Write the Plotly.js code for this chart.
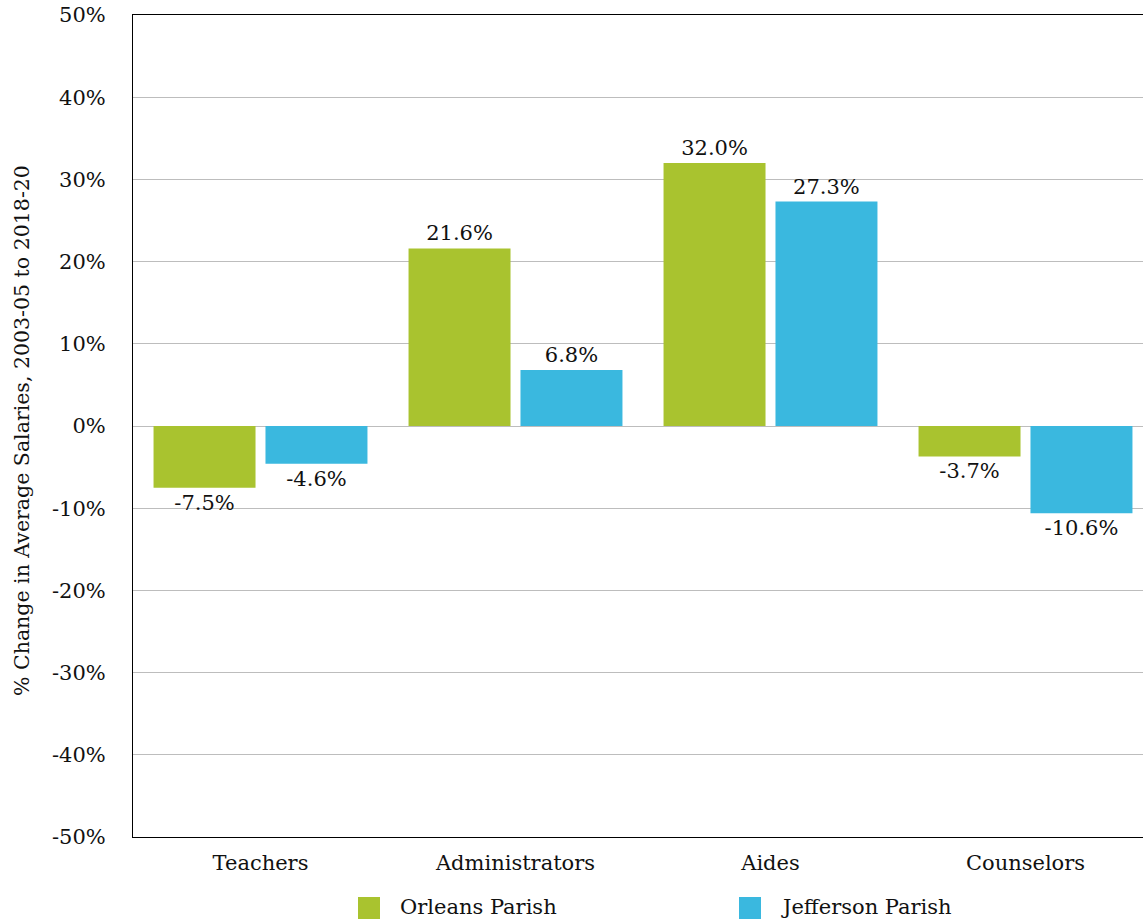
<!DOCTYPE html>
<html>
<head>
<meta charset="utf-8">
<script src="https://cdn.plot.ly/plotly-3.0.1.min.js"></script>
<style>
html,body{margin:0;padding:0;overflow:hidden;background:#fff;}
#chart{width:1153px;height:921px;}
</style>
</head>
<body>
<div id="chart"></div>
<script>
const categories = ["Teachers", "Administrators", "Aides", "Counselors"];
const seriesNames = ["Orleans Parish", "Jefferson Parish"];
const orleans = [-7.5, 21.6, 32.0, -3.7];
const jefferson = [-4.6, 6.8, 27.3, -10.6];
const yTickVals = [50, 40, 30, 20, 10, 0, -10, -20, -30, -40, -50];
const yTickText = yTickVals.map(v => v + "%");
const yTitle = "% Change in Average Salaries, 2003-05 to 2018-20";

const colors = ["#A9C32F", "#3AB8DF"];
const FONT = "DejaVu Serif, Georgia, serif";
const fmt = v => v.toFixed(1) + "%";

const traces = [orleans, jefferson].map((vals, i) => ({
  type: "bar",
  name: seriesNames[i],
  x: categories,
  y: vals,
  text: vals.map(fmt),
  textposition: "outside",
  textfont: {family: FONT, size: 21, color: "#111"},
  marker: {color: colors[i]},
  cliponaxis: false,
  showlegend: false,
  hoverinfo: "skip"
}));

// custom legend (larger swatches as in the reference)
const PW = 1020, PH = 822;
const px = p => (p - 133) / PW;
const py = p => (837 - p) / PH;
const legendSwatchX = [358, 739];
const shapes = seriesNames.map((n, i) => ({
  type: "rect", xref: "paper", yref: "paper",
  x0: px(legendSwatchX[i]), x1: px(legendSwatchX[i] + 22),
  y0: py(897), y1: py(919),
  fillcolor: colors[i], line: {width: 0}
}));
const annotations = seriesNames.map((n, i) => ({
  xref: "paper", yref: "paper",
  x: px(legendSwatchX[i] + 40), y: py(907),
  xanchor: "left", yanchor: "middle",
  text: n, showarrow: false,
  font: {family: FONT, size: 21, color: "#111"}
}));
annotations.push({
  xref: "paper", yref: "paper",
  x: px(22), y: py(431), xanchor: "center", yanchor: "middle",
  text: yTitle, textangle: -90, showarrow: false,
  font: {family: FONT, size: 20.5, color: "#111"}
});

const layout = {
  width: 1153, height: 921,
  margin: {l: 133, r: 0, t: 15, b: 84, pad: 0},
  paper_bgcolor: "#fff", plot_bgcolor: "#fff",
  font: {family: FONT, size: 21, color: "#111"},
  barmode: "group",
  bargap: 0.122,
  bargroupgap: 0.089,
  xaxis: {
    showline: true, linecolor: "#000", linewidth: 1, mirror: true,
    showgrid: false, ticks: "", automargin: false,
    tickfont: {family: FONT, size: 21, color: "#111"},
    ticklabelstandoff: 7
  },
  yaxis: {
    range: [-50, 50], autorange: false,
    tickvals: yTickVals, ticktext: yTickText,
    showline: true, linecolor: "#000", linewidth: 1, mirror: true,
    showgrid: true, gridcolor: "#bdbdbd", gridwidth: 1,
    zeroline: false, ticks: "", automargin: false,
    tickfont: {family: FONT, size: 21, color: "#111"},
    ticklabelstandoff: 22
  },
  shapes: shapes,
  annotations: annotations
};

Plotly.newPlot("chart", traces, layout, {displayModeBar: false, staticPlot: true});
</script>
</body>
</html>
